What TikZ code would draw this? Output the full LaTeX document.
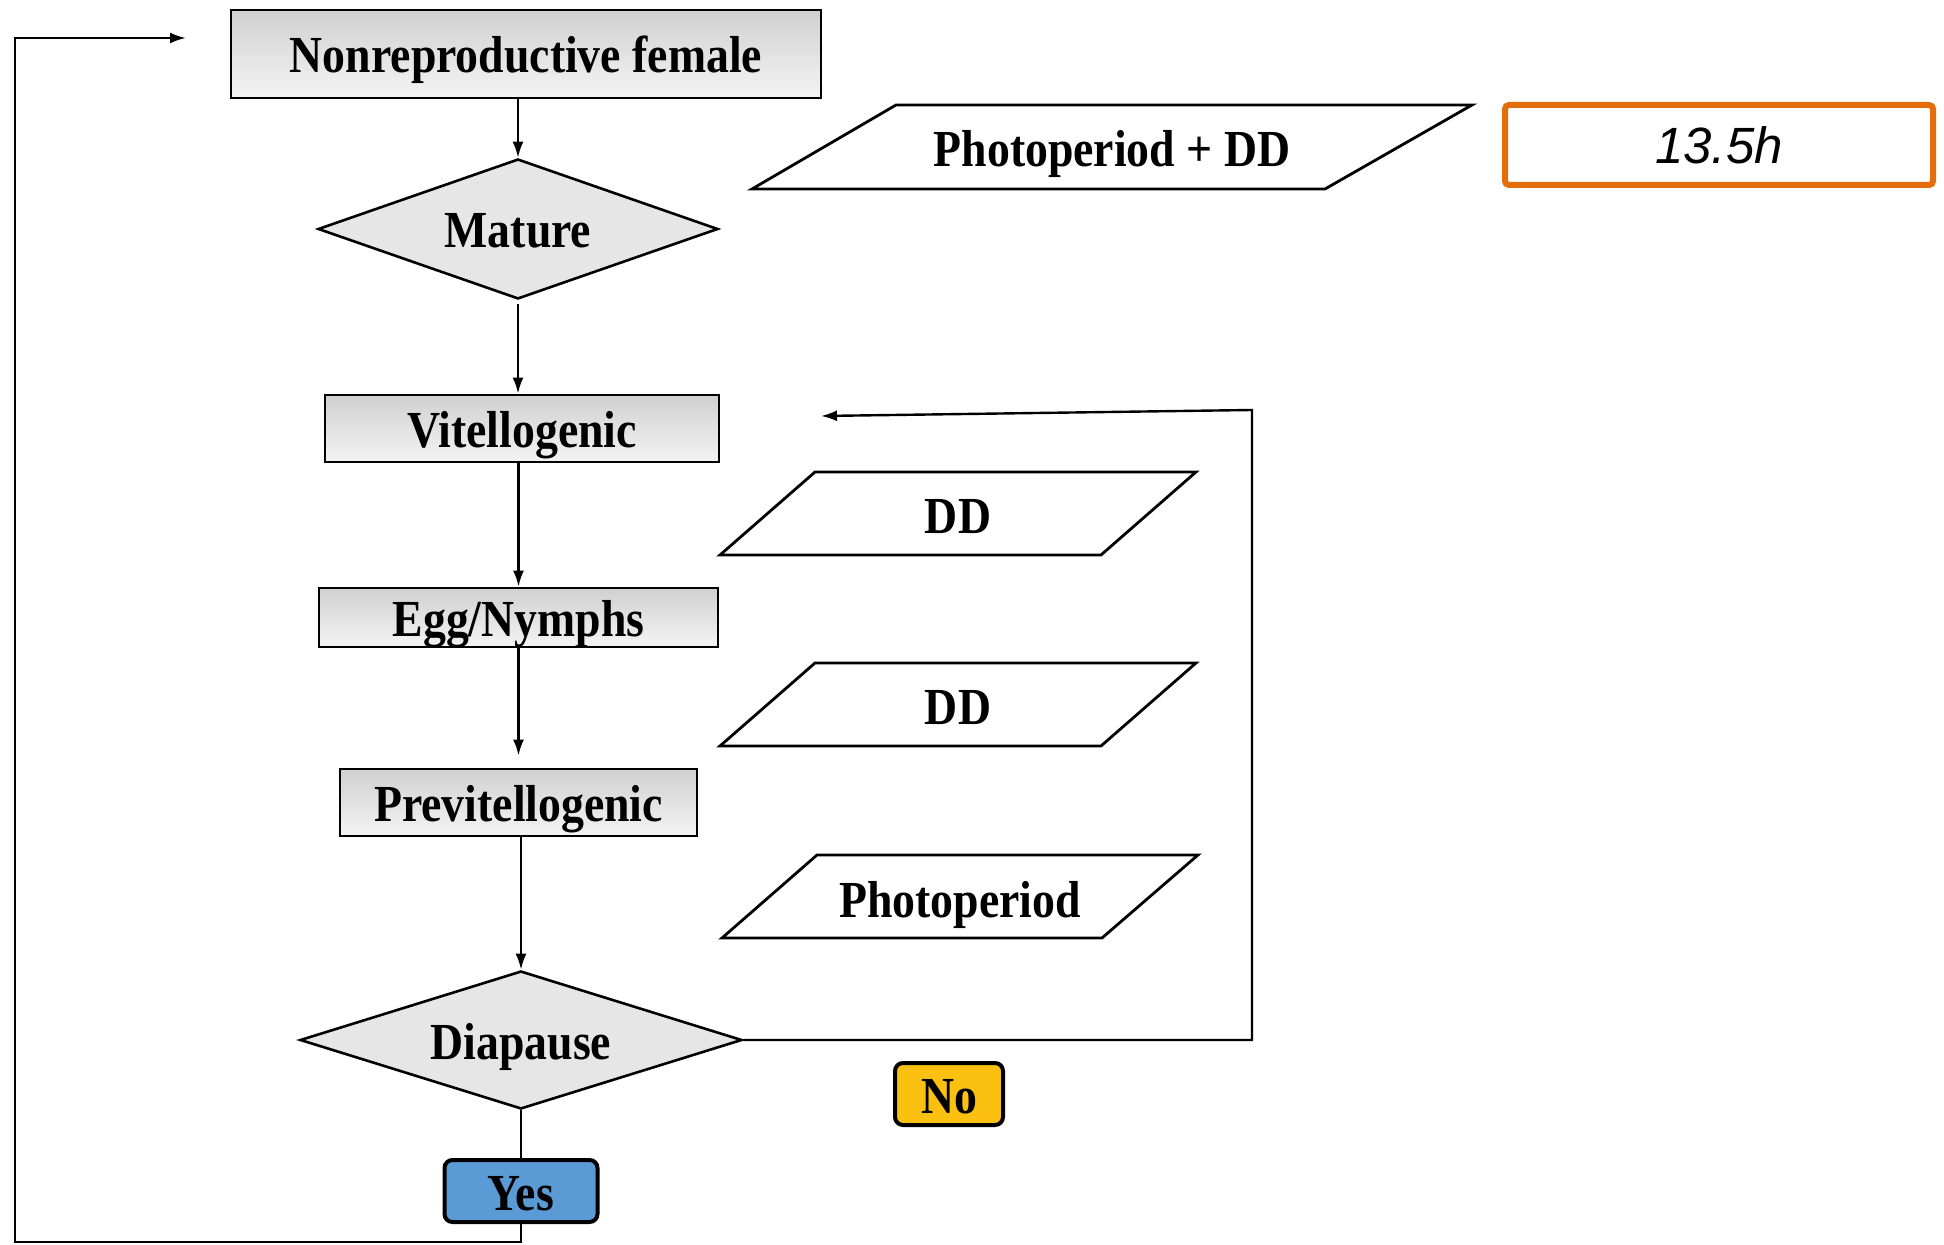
\documentclass[tikz,border=0pt]{standalone}
\usepackage{fontspec}
\setmainfont{Liberation Serif}
\newfontfamily\timesbold[FakeStretch=0.88]{Liberation Serif}
\newfontfamily\arialfont{Liberation Sans}
\usetikzlibrary{shapes.geometric,arrows.meta}
\definecolor{orng}{RGB}{228,108,10}
\definecolor{yesblue}{RGB}{91,155,213}
\definecolor{noyellow}{RGB}{252,192,16}
\definecolor{boxtop}{RGB}{208,208,208}
\definecolor{boxbot}{RGB}{244,244,244}
\definecolor{diafill}{RGB}{230,230,230}
\begin{document}
\begin{tikzpicture}[x=0.5pt,y=-0.5pt,
  lbl/.style={font=\timesbold\bfseries\fontsize{26}{30}\selectfont, inner sep=0pt, text height=19pt, text depth=0pt},
  stagebox/.style={lbl, draw, line width=1.4pt, rectangle, top color=boxtop, bottom color=boxbot},
  decide/.style={lbl, draw, line width=1.3pt, diamond, shape aspect=3, fill=diafill},
  para/.style={draw, line width=1.4pt},
  arr/.style={line width=1.2pt, -{Latex[length=8pt,width=5.5pt]}},
  link/.style={line width=1.2pt},
  tag/.style={lbl, draw, line width=2pt, rounded corners=4pt}
]
\fill[white] (0,0) rectangle (1944,1245);
\useasboundingbox (0,0) rectangle (1944,1245);

% main column
\node[stagebox, minimum width=295pt, minimum height=44pt] (nr) at (526,54) {Nonreproductive female};
\node[decide, minimum width=200pt, minimum height=70pt] (mature) at (518,229) {Mature};
\node[stagebox, minimum width=197pt, minimum height=33.5pt] (vit) at (522,428.5) {Vitellogenic};
\node[stagebox, minimum width=199.5pt, minimum height=29.5pt] (egg) at (518.5,617.5) {Egg/Nymphs};
\node[stagebox, minimum width=178.5pt, minimum height=33.5pt] (prev) at (518.5,802.5) {Previtellogenic};
\node[decide, minimum width=221pt, minimum height=69pt] (diap) at (521,1040) {Diapause};
\node[tag, fill=yesblue, minimum width=76.5pt, minimum height=31pt] (yes) at (521,1191) {Yes};
\node[tag, fill=noyellow, minimum width=54pt, minimum height=31pt] (no) at (949,1094) {No};

% parallelograms
\draw[para] (752,189) -- (896,105) -- (1472,105) -- (1325,189) -- cycle;
\node[lbl] (ppdd) at (1112,148) {Photoperiod + DD};
\draw[para] (720,555) -- (815,472) -- (1196,472) -- (1101,555) -- cycle;
\node[lbl] (dda) at (958,515) {DD};
\draw[para] (720,746) -- (815,663) -- (1196,663) -- (1101,746) -- cycle;
\node[lbl] (ddb) at (958,706) {DD};
\draw[para] (722,938) -- (817,855) -- (1198,855) -- (1102,938) -- cycle;
\node[lbl] (photo) at (960,898) {Photoperiod};

% orange box
\node[draw=orng, line width=3pt, rounded corners=2pt, minimum width=214pt, minimum height=40pt, inner sep=0pt,
      font=\arialfont\itshape\fontsize{25.5}{30}\selectfont] (hours) at (1719,145) {13.5h};

% coordinates for the loops
\coordinate (loopbl) at (15,1242);
\coordinate (looptl) at (15,38);
\coordinate (looptr) at (186,38);
\coordinate (noc1) at (1252,1040);
\coordinate (noc2) at (1252,410);
\coordinate (notip) at (821,416);

% connectors
\draw[arr] (nr.south -| mature.north) -- (mature.north);
\draw[arr, shorten <=2pt] (mature.south) -- (mature.south |- vit.north);
\draw[arr] (vit.south -| egg.north) -- (egg.north);
\draw[arr, shorten >=6pt] (egg.south) -- (egg.south |- prev.north);
\draw[arr] (prev.south -| diap.north) -- (diap.north);
\draw[link] (diap.south) -- (yes.north);
\draw[arr] (yes.south) -- (yes.south |- loopbl) -- (loopbl) -- (looptl) -- (looptr);
\draw[arr] (diap.east) -- (noc1) -- (noc2) -- (notip);
\end{tikzpicture}
\end{document}
